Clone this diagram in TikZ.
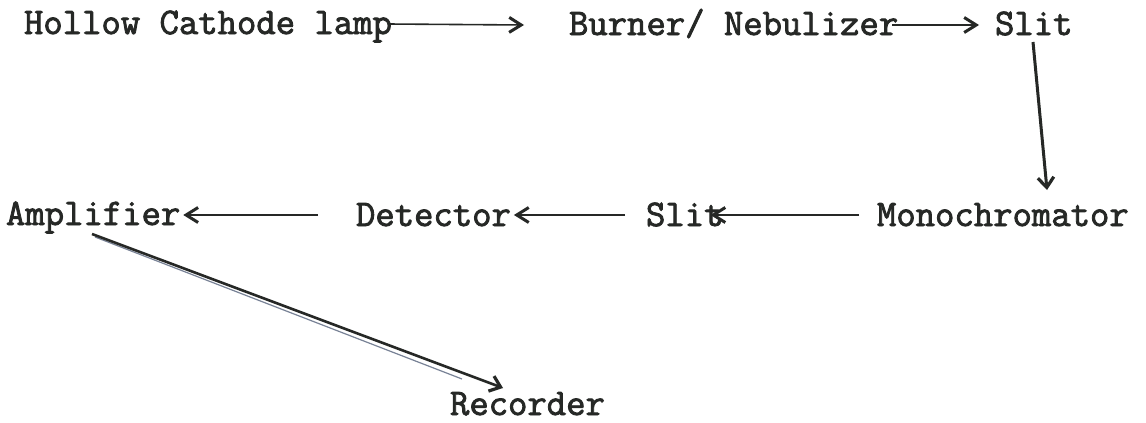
\documentclass[tikz,border=0pt]{standalone}
\usepackage{fontspec}
\newfontfamily\typew{Latin Modern Mono}[FakeBold=2.2]
\usetikzlibrary{arrows.meta}
\definecolor{ink}{RGB}{38,40,38}
\definecolor{faint}{RGB}{120,130,150}
\begin{document}
\begin{tikzpicture}[x=0.5pt,y=-0.5pt,
  lbl/.style={anchor=base west,inner sep=0pt,outer sep=0pt,text=ink,
    font=\typew\fontsize{18.8}{20}\selectfont},
  flow/.style={draw=ink,line width=0.8pt,
    -{Straight Barb[length=6pt,width=7.5pt,line width=1.5pt]}},
  heavy/.style={draw=ink,line width=1.5pt,
    -{Straight Barb[length=5pt,width=8pt,line width=1.6pt]}},
  ghost/.style={draw=faint,line width=0.6pt}]
\useasboundingbox[fill=white] (0,0) rectangle (1146,423);

\node[lbl] (lamp)   at (24,34)  {Hollow Cathode lamp};
\node[lbl] (burner) at (569,35) {Burner/ Nebulizer};
\node[lbl] (slitA)  at (995,35) {Slit};
\node[lbl] (mono)   at (877,226) {Monochromator};
\node[lbl] (slitB)  at (646,226) {Slit};
\node[lbl] (det)    at (356,226) {Detector};
\node[lbl] (amp)    at (6,225)  {Amplifier};
\node[lbl] (rec)    at (450,415) {Recorder};

\draw[flow] ([shift={(-4,-10)}]lamp.base east) -- ([shift={(-45,-10)}]burner.base west);
\draw[flow] ([shift={(-6,-10)}]burner.base east) -- ([shift={(-16,-10)}]slitA.base west);
\draw[heavy] ([shift={(38,7)}]slitA.base west) -- ([shift={(170,-36)}]mono.base west);
\draw[flow] ([shift={(-18,-11)}]mono.base west) -- ([shift={(-13,-11)}]slitB.base east);
\draw[flow] ([shift={(-21,-11)}]slitB.base west) -- ([shift={(3,-11)}]det.base east);
\draw[flow] ([shift={(-38,-11)}]det.base west) -- ([shift={(3,-10)}]amp.base east);
\coordinate (ghostend) at ([shift={(12,-36)}]rec.base west);
\draw[ghost] ([shift={(89,12)}]amp.base west) -- (ghostend);
\draw[heavy,line width=1.3pt] ([shift={(53,-27)}]rec.base west) coordinate (tipR)
  (amp.base west) ++(86,9) -- (tipR);
\end{tikzpicture}
\end{document}
